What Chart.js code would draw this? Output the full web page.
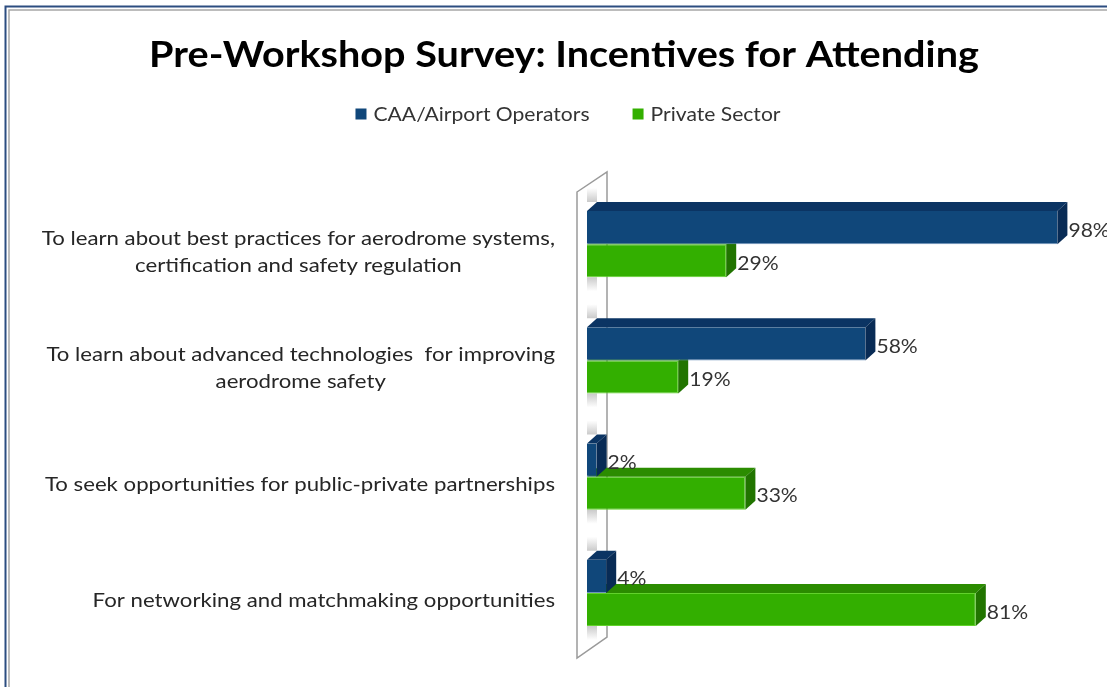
<!DOCTYPE html>
<html>
<head>
<meta charset="utf-8">
<script src="https://cdn.jsdelivr.net/npm/chart.js@4.4.0/dist/chart.umd.min.js"></script>
<style>
    html, body { margin: 0; padding: 0; background: #fff; }
    #wrap { width: 1107px; height: 687px; position: relative; }
</style>
</head>
<body>
<div id="wrap"><canvas id="surveyChart"></canvas></div>
<script>
const categories = [
    ["To learn about best practices for aerodrome systems,", "certification and safety regulation"],
    ["To learn about advanced technologies  for improving", "aerodrome safety"],
    ["To seek opportunities for public-private partnerships"],
    ["For networking and matchmaking opportunities"]
];
const seriesNames = ["CAA/Airport Operators", "Private Sector"];
const caaValues = [98, 58, 2, 4];
const privateValues = [29, 19, 33, 81];
const chartTitle = "Pre-Workshop Survey: Incentives for Attending";

const DEPTH_X = 10;
const DEPTH_Y = 9;
const FONT = "Lato, 'Open Sans', sans-serif";
const STRETCH = 1.11;   // the original text is a bit wider than Lato

const faces = [
    { front: "#10477a", top: "#0b3463", side: "#082b55", edge: "#6f93bd" },
    { front: "#33af00", top: "#2b8c00", side: "#217400", edge: "#62d22c" }
];

function wideText(ctx, text, x, y, align, sx) {
    ctx.save();
    ctx.translate(x, y);
    ctx.scale(sx, 1);
    ctx.textAlign = align;
    ctx.fillText(text, 0, 0);
    ctx.restore();
}

// frame, title, legend and the wall behind the bars
const backdropPlugin = {
    id: "backdrop",
    beforeDraw(chart) {
        const ctx = chart.ctx;
        ctx.save();
        ctx.fillStyle = "#fff";
        ctx.fillRect(0, 0, chart.width, chart.height);
        ctx.strokeStyle = "#2c4d80";
        ctx.lineWidth = 2;
        ctx.beginPath();
        ctx.moveTo(5.5, chart.height);
        ctx.lineTo(5.5, 6.5);
        ctx.lineTo(chart.width, 6.5);
        ctx.stroke();
        ctx.strokeStyle = "#a6a6a6";
        ctx.lineWidth = 1.5;
        ctx.beginPath();
        ctx.moveTo(9, chart.height);
        ctx.lineTo(9, 10);
        ctx.lineTo(chart.width, 10);
        ctx.stroke();

        ctx.textBaseline = "middle";
        ctx.fillStyle = "#000";
        ctx.font = "bold 36px " + FONT;
        wideText(ctx, chartTitle, 564, 55, "center", 1.10);

        // legend
        ctx.font = "19px " + FONT;
        const gap = 43, box = 11, textGap = 7;
        const widths = seriesNames.map(t => ctx.measureText(t).width * STRETCH);
        const total = widths.reduce((s, w) => s + box + textGap + w, 0) + gap * (seriesNames.length - 1);
        let x = 568 - total / 2;
        seriesNames.forEach((t, i) => {
            ctx.fillStyle = faces[i].front;
            ctx.fillRect(x, 114 - box / 2, box, box);
            ctx.fillStyle = "#333";
            wideText(ctx, t, x + box + textGap, 115, "left", STRETCH);
            x += box + textGap + widths[i] + gap;
        });
        ctx.restore();
    },
    beforeDatasetsDraw(chart) {
        const ctx = chart.ctx;
        const a = chart.chartArea;
        const l = a.left - 10, r = a.left + 20;
        ctx.save();
        ctx.fillStyle = "#fff";
        ctx.strokeStyle = "#9a9a9a";
        ctx.lineWidth = 1.5;
        ctx.beginPath();
        ctx.moveTo(l, a.top + 6);
        ctx.lineTo(r, a.top - 14);
        ctx.lineTo(r, a.bottom - 14);
        ctx.lineTo(l, a.bottom + 7);
        ctx.closePath();
        ctx.fill();
        ctx.stroke();

        // soft shading on the wall around each bar group
        const meta0 = chart.getDatasetMeta(0);
        const meta1 = chart.getDatasetMeta(1);
        categories.forEach((c, i) => {
            const b0 = meta0.data[i], b1 = meta1.data[i];
            const top = b0.y - b0.height / 2 - DEPTH_Y;
            const bottom = b1.y + b1.height / 2;
            let g = ctx.createLinearGradient(0, top - 14, 0, top);
            g.addColorStop(0, "rgba(150,150,150,0)");
            g.addColorStop(1, "rgba(150,150,150,0.5)");
            ctx.fillStyle = g;
            ctx.fillRect(a.left, top - 14, DEPTH_X, 14);
            g = ctx.createLinearGradient(0, bottom, 0, bottom + 14);
            g.addColorStop(0, "rgba(150,150,150,0.5)");
            g.addColorStop(1, "rgba(150,150,150,0)");
            ctx.fillStyle = g;
            ctx.fillRect(a.left, bottom, DEPTH_X, 14);
        });
        ctx.restore();
    }
};

// top and side faces so the bars look like blocks, then the texts
const blockPlugin = {
    id: "blocks",
    afterDatasetDraw(chart, args) {
        const ctx = chart.ctx;
        const f = faces[args.index];
        ctx.save();
        args.meta.data.forEach(bar => {
            const x0 = bar.base, x1 = bar.x;
            const y0 = bar.y - bar.height / 2, y1 = bar.y + bar.height / 2;
            ctx.fillStyle = f.top;
            ctx.beginPath();
            ctx.moveTo(x0, y0);
            ctx.lineTo(x0 + DEPTH_X, y0 - DEPTH_Y);
            ctx.lineTo(x1 + DEPTH_X, y0 - DEPTH_Y);
            ctx.lineTo(x1, y0);
            ctx.closePath();
            ctx.fill();
            ctx.fillStyle = f.side;
            ctx.beginPath();
            ctx.moveTo(x1, y0);
            ctx.lineTo(x1 + DEPTH_X, y0 - DEPTH_Y);
            ctx.lineTo(x1 + DEPTH_X, y1 - DEPTH_Y);
            ctx.lineTo(x1, y1);
            ctx.closePath();
            ctx.fill();
        });
        ctx.restore();
    },
    afterDatasetsDraw(chart) {
        const ctx = chart.ctx;
        ctx.save();
        ctx.font = "19px " + FONT;
        ctx.fillStyle = "#333";
        ctx.textBaseline = "middle";
        chart.data.datasets.forEach((ds, di) => {
            chart.getDatasetMeta(di).data.forEach((bar, i) => {
                wideText(ctx, ds.data[i] + "%", bar.x + DEPTH_X + 1, bar.y + 3, "left", STRETCH);
            });
        });

        // category labels: lines centred on each other, block right-aligned
        const yScale = chart.scales.y;
        const rightEdge = chart.chartArea.left - 32;
        ctx.font = "20px " + FONT;
        ctx.fillStyle = "#262626";
        categories.forEach((lines, i) => {
            const w = Math.max(...lines.map(t => ctx.measureText(t).width)) * STRETCH;
            const cx = rightEdge - w / 2;
            const cy = yScale.getPixelForValue(i) + 8;
            const lh = 27;
            lines.forEach((t, k) => {
                wideText(ctx, t, cx, cy + (k - (lines.length - 1) / 2) * lh, "center", STRETCH);
            });
        });
        ctx.restore();
    }
};

const chartData = {
    labels: categories,
    datasets: [
        {
            label: seriesNames[0],
            data: caaValues,
            backgroundColor: faces[0].front,
            borderColor: faces[0].edge,
            borderWidth: { top: 0, right: 0, bottom: 1, left: 0 },
            categoryPercentage: 0.57,
            barPercentage: 1
        },
        {
            label: seriesNames[1],
            data: privateValues,
            backgroundColor: faces[1].front,
            borderColor: faces[1].edge,
            borderWidth: 1,
            categoryPercentage: 0.57,
            barPercentage: 1
        }
    ]
};

const ctx = document.getElementById("surveyChart").getContext("2d");
new Chart(ctx, {
    type: "bar",
    data: chartData,
    plugins: [backdropPlugin, blockPlugin],
    options: {
        indexAxis: "y",
        responsive: true,
        maintainAspectRatio: false,
        animation: false,
        layout: { padding: { top: 186, left: 587, right: 40, bottom: 36 } },
        plugins: {
            title: { display: false },
            legend: { display: false },
            tooltip: { enabled: false }
        },
        scales: {
            x: { display: false, min: 0, max: 100 },
            y: { display: false }
        }
    }
});
</script>
</body>
</html>
